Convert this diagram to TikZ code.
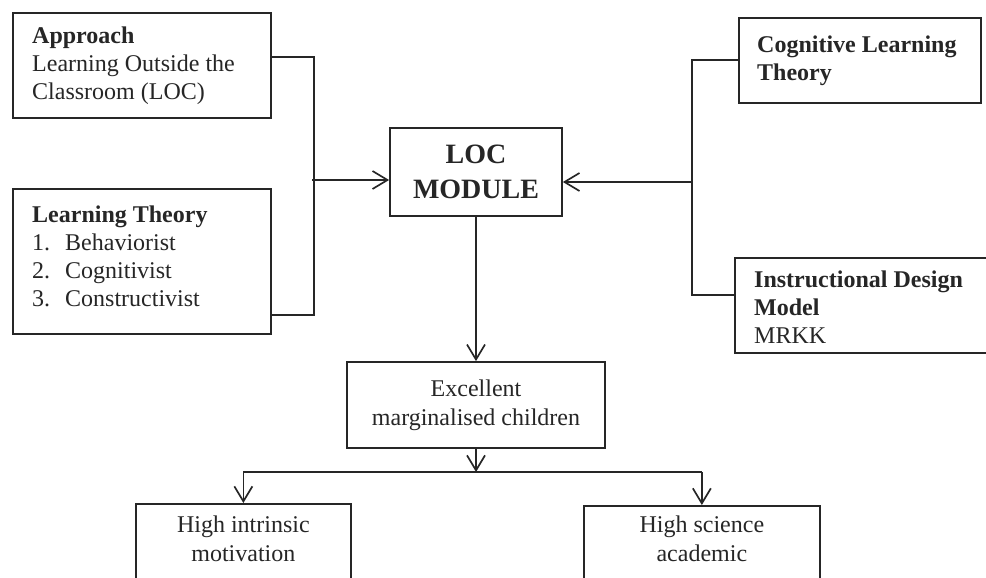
\documentclass[tikz,border=0pt]{standalone}
\usepackage{fontspec}
\setmainfont{Liberation Serif}
\usetikzlibrary{arrows.meta}
\definecolor{ink}{HTML}{262626}
\begin{document}
\begin{tikzpicture}[x=1pt,y=-1pt,
  box/.style={draw=ink, line width=1.7pt, rectangle, inner sep=0pt, anchor=north west},
  cbox/.style={draw=ink, line width=1.7pt, rectangle, inner sep=0pt, align=center, text=ink},
  txt/.style={inner sep=0pt, anchor=north west, align=left, font=\fontsize{24}{28}\selectfont, text=ink},
  ctxt/.style={inner sep=0pt, anchor=north, align=center, font=\fontsize{24}{29}\selectfont, text=ink},
  link/.style={draw=ink, line width=1.7pt},
  arr/.style={link, -{Straight Barb[length=15pt,width=18pt,line width=1.7pt]}}
]
\useasboundingbox (0,0) rectangle (986,578);
\clip (0,0) rectangle (986,578);
\fill[white] (0,0) rectangle (986,578);

% left boxes
\node[box, minimum width=258pt, minimum height=105pt] (a) at (12,12) {};
\node[txt] (ta) at (32,27) {\textbf{Approach}\\Learning Outside the\\Classroom (LOC)};
\node[box, minimum width=258pt, minimum height=145pt] (lt) at (12,188) {};
\node[txt] (tlt) at (32,206) {\textbf{Learning Theory}\\\makebox[33pt][l]{1.}Behaviorist\\\makebox[33pt][l]{2.}Cognitivist\\\makebox[33pt][l]{3.}Constructivist};

% central box
\node[cbox, minimum width=172pt, minimum height=88pt, font=\bfseries\fontsize{28}{35}\selectfont] (loc) at (476,172) {LOC\\MODULE};

% right boxes
\node[box, minimum width=242pt, minimum height=85pt] (clt) at (738,17) {};
\node[txt] (tclt) at (757,36) {\textbf{Cognitive Learning}\\\textbf{Theory}};
\node[box, minimum width=280pt, minimum height=95pt] (idm) at (734,257) {};
\node[txt] (tidm) at (754,271) {\textbf{Instructional Design}\\\textbf{Model}\\MRKK};

% lower boxes
\node[cbox, minimum width=258pt, minimum height=86pt, font=\fontsize{24}{29}\selectfont] (exc) at (476,405) {Excellent\\marginalised children};
\node[box, minimum width=215pt, minimum height=120pt] (him) at (135,503) {};
\node[ctxt] (thim) at (him.north |- 0,516) {High intrinsic\\motivation};
\node[box, minimum width=236pt, minimum height=120pt] (hs) at (583,505) {};
\node[ctxt] (ths) at (hs.north |- 0,516) {High science\\academic};

% left connectors
\coordinate (jl) at (312,180);
\draw[link] ([yshift=-45pt]a.north east) -- ++(42,0) |- ([yshift=20pt]lt.south east);
\draw[arr] (jl) -- (loc.west |- jl);

% right connectors
\coordinate (jr) at (692,182);
\draw[link] ([yshift=-43pt]clt.north west) -- ++(-46,0) |- ([yshift=-38pt]idm.north west);
\draw[arr] (jr) -- (loc.east |- jr);

% downward connectors
\draw[arr] (loc.south) -- (exc.north);
\coordinate (jb) at (476,472);
\draw[arr] (exc.south) -- (jb);
\draw[link] (him.north |- jb) -- (hs.north |- jb);
\draw[arr] (him.north |- jb) -- (him.north);
\draw[arr] (hs.north |- jb) -- (hs.north);
\end{tikzpicture}
\end{document}
